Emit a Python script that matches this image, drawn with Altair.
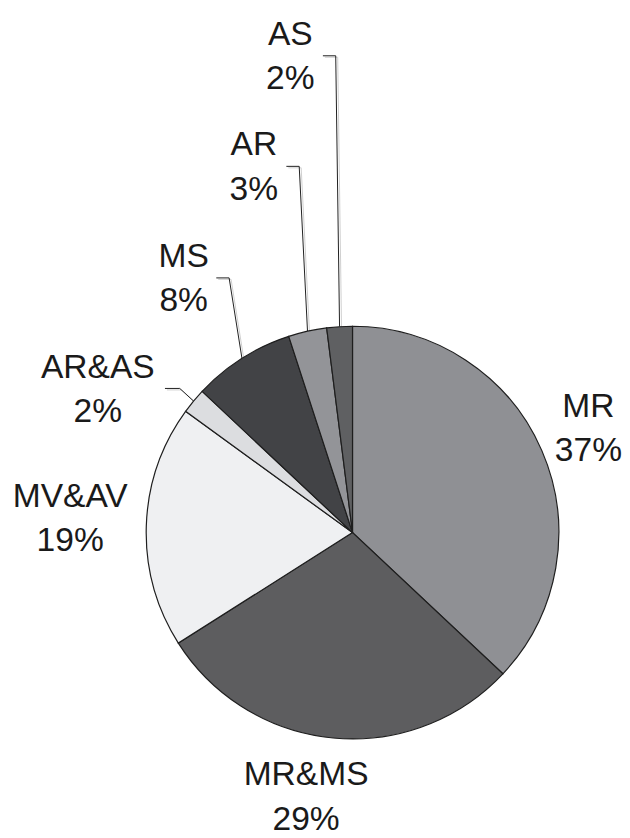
import math
import altair as alt
import pandas as pd

# ---- data ----
categories = ["MR", "MR&MS", "MV&AV", "AR&AS", "MS", "AR", "AS"]
percents = [37, 29, 19, 2, 8, 3, 2]
slice_colors = ["#8f9094", "#5d5d5f", "#eff0f2", "#dcdde0", "#424346", "#939498", "#5f6062"]

# ---- layout (pixels inside the chart) ----
W, H = 622, 830
CX, CY, R = 349, 526, 209
label_x = [588, 302, 63, 91, 178, 249, 286]
label_y = [409, 782, 500, 369, 257, 144, 32]
line_gap = 45
leader_cats = ["AR&AS", "MS", "AR", "AS"]
leader_start_x = [159, 211, 282, 319]
leader_elbow_x = [174, 224, 295, 332]
leader_drop = 11

total = sum(percents)
pie_df = pd.DataFrame({"cat": categories, "pct": percents, "idx": list(range(len(categories)))})

lab_df = pd.DataFrame({
    "cat": categories,
    "label": [f"{c}\n{p}%" for c, p in zip(categories, percents)],
    "x": label_x,
    "y": label_y,
})

# mid angles of the slices, used for leader line end on the pie edge
mid = {}
acc = 0
for c, p in zip(categories, percents):
    mid[c] = (acc + p / 2) / total * 2 * math.pi
    acc += p

rows = []
for c, sx, ex in zip(leader_cats, leader_start_x, leader_elbow_x):
    ly = label_y[categories.index(c)] + leader_drop
    a = mid[c]
    px = CX + R * math.sin(a)
    py = CY - R * math.cos(a)
    rows += [
        {"cat": c, "k": 0, "x": sx, "y": ly},
        {"cat": c, "k": 1, "x": ex, "y": ly},
        {"cat": c, "k": 2, "x": px, "y": py},
    ]
lead_df = pd.DataFrame(rows)
shadow_df = lead_df.assign(x=lead_df.x + 2, y=lead_df.y + 1.5)

xs = alt.Scale(domain=[0, W], nice=False, zero=False)
ys = alt.Scale(domain=[0, H], nice=False, zero=False, reverse=True)

pie = alt.Chart(pie_df).mark_arc(radius=R, stroke="#1e1e1e", strokeWidth=1.2).encode(
    theta=alt.Theta("pct:Q", stack=True),
    order=alt.Order("idx:Q"),
    color=alt.Color("cat:N", scale=alt.Scale(domain=categories, range=slice_colors), legend=None),
    x=alt.value(CX),
    y=alt.value(CY),
)

shadow = alt.Chart(shadow_df).mark_line(color="#cfcfcf", strokeWidth=1).encode(
    x=alt.X("x:Q", scale=xs, axis=None),
    y=alt.Y("y:Q", scale=ys, axis=None),
    detail="cat:N",
    order="k:Q",
)

leaders = alt.Chart(lead_df).mark_line(color="#1e1e1e", strokeWidth=1).encode(
    x=alt.X("x:Q", scale=xs, axis=None),
    y=alt.Y("y:Q", scale=ys, axis=None),
    detail="cat:N",
    order="k:Q",
)

labels = alt.Chart(lab_df).mark_text(
    align="center", baseline="alphabetic", fontSize=34, font="Liberation Sans",
    lineBreak="\n", lineHeight=line_gap, color="#1a1a1a",
).encode(
    x=alt.X("x:Q", scale=xs, axis=None),
    y=alt.Y("y:Q", scale=ys, axis=None),
    text="label:N",
)

chart = alt.layer(shadow, leaders, pie, labels).properties(
    width=W, height=H, padding=0, autosize=alt.AutoSizeParams(type="none"), background="white"
).configure_view(stroke=None)

chart.save("out.html", embed_options={"renderer": "svg", "actions": False})
